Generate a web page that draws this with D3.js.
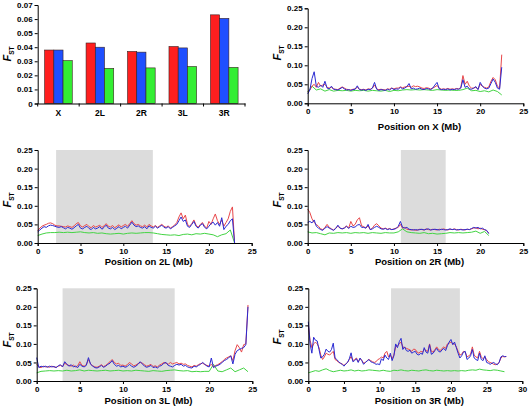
<!DOCTYPE html>
<html><head><meta charset="utf-8">
<script src="https://cdn.jsdelivr.net/npm/d3@7"></script>
<style>body{margin:0;background:#fff}svg{display:block}text{font-family:"Liberation Sans",Arial,sans-serif;font-weight:bold;fill:#000}</style>
</head><body><svg id="c" width="530" height="409"></svg>
<script>
// ---------- Bar chart data ----------
const barCats = ["X","2L","2R","3L","3R"];
const barRed   = [0.038, 0.043, 0.037, 0.0405, 0.063];
const barBlue  = [0.038, 0.040, 0.0365, 0.0395, 0.0605];
const barGreen = [0.0305, 0.025, 0.0253, 0.0263, 0.0257];
const barTicks = [0, 0.01, 0.02, 0.03, 0.04, 0.05, 0.06, 0.07];
const lineTicksY = [0, 0.05, 0.10, 0.15, 0.20, 0.25];

// window step (Mb) for red/blue series and green series
const stepRB = 0.25, stepG = 0.5;

// ---------- X ----------
const xRed = [0.030,0.035,0.045,0.050,0.042,0.055,0.045,0.048,0.050,0.042,0.040,0.042,0.038,0.037,0.036,0.040,0.043,0.040,0.037,0.036,0.035,0.037,0.038,0.042,0.037,0.036,0.037,0.035,0.038,0.037,0.040,0.048,0.038,0.036,0.037,0.036,0.035,0.038,0.037,0.040,0.038,0.040,0.040,0.043,0.041,0.043,0.044,0.045,0.042,0.046,0.044,0.045,0.043,0.040,0.039,0.041,0.040,0.038,0.040,0.043,0.047,0.040,0.037,0.038,0.037,0.039,0.037,0.038,0.037,0.039,0.038,0.041,0.073,0.050,0.058,0.045,0.040,0.040,0.042,0.037,0.050,0.045,0.042,0.040,0.043,0.058,0.068,0.062,0.045,0.040,0.128];
const xBlue = [0.025,0.035,0.065,0.083,0.045,0.042,0.048,0.042,0.058,0.040,0.038,0.045,0.037,0.036,0.035,0.038,0.042,0.038,0.035,0.036,0.034,0.036,0.037,0.046,0.036,0.035,0.036,0.034,0.037,0.036,0.040,0.055,0.037,0.034,0.036,0.035,0.034,0.037,0.035,0.040,0.036,0.038,0.037,0.042,0.038,0.040,0.044,0.052,0.038,0.040,0.037,0.038,0.040,0.037,0.036,0.039,0.038,0.036,0.040,0.048,0.055,0.038,0.036,0.037,0.036,0.038,0.035,0.037,0.036,0.038,0.037,0.040,0.062,0.042,0.045,0.038,0.037,0.040,0.044,0.036,0.055,0.045,0.040,0.038,0.040,0.052,0.064,0.055,0.040,0.037,0.095];
const xGreen = [0.030,0.045,0.035,0.038,0.032,0.036,0.032,0.034,0.033,0.034,0.032,0.034,0.033,0.034,0.032,0.034,0.033,0.032,0.034,0.031,0.034,0.033,0.035,0.036,0.035,0.036,0.035,0.036,0.035,0.034,0.036,0.035,0.034,0.035,0.034,0.034,0.036,0.040,0.033,0.034,0.031,0.033,0.030,0.035,0.031,0.022];

// ---------- 2L ----------
const l2Red = [0.033,0.040,0.045,0.048,0.050,0.053,0.054,0.052,0.048,0.046,0.046,0.045,0.044,0.043,0.046,0.044,0.042,0.046,0.052,0.055,0.046,0.043,0.047,0.050,0.044,0.041,0.047,0.043,0.045,0.048,0.042,0.046,0.052,0.045,0.043,0.047,0.041,0.045,0.049,0.043,0.047,0.050,0.045,0.052,0.060,0.052,0.048,0.050,0.046,0.044,0.048,0.043,0.050,0.046,0.043,0.047,0.042,0.046,0.050,0.045,0.042,0.046,0.040,0.044,0.048,0.055,0.070,0.081,0.065,0.075,0.050,0.045,0.052,0.062,0.048,0.042,0.050,0.055,0.045,0.040,0.058,0.050,0.065,0.078,0.060,0.050,0.062,0.045,0.055,0.065,0.085,0.097,0.000];
const l2Blue = [0.030,0.035,0.040,0.044,0.042,0.046,0.048,0.047,0.045,0.043,0.042,0.044,0.041,0.038,0.042,0.040,0.037,0.041,0.046,0.050,0.040,0.038,0.042,0.045,0.039,0.036,0.042,0.038,0.040,0.044,0.037,0.042,0.048,0.040,0.038,0.042,0.036,0.040,0.044,0.038,0.042,0.045,0.040,0.048,0.056,0.048,0.044,0.046,0.042,0.040,0.044,0.038,0.046,0.042,0.040,0.045,0.040,0.044,0.048,0.042,0.040,0.044,0.038,0.042,0.046,0.050,0.060,0.070,0.058,0.062,0.045,0.042,0.050,0.058,0.045,0.040,0.048,0.052,0.042,0.038,0.045,0.052,0.056,0.048,0.055,0.045,0.068,0.036,0.045,0.050,0.060,0.065,0.000];
const l2Green = [0.020,0.024,0.027,0.028,0.028,0.029,0.028,0.029,0.028,0.029,0.030,0.028,0.027,0.028,0.026,0.027,0.025,0.024,0.025,0.026,0.024,0.026,0.027,0.026,0.027,0.028,0.028,0.027,0.025,0.023,0.022,0.021,0.022,0.020,0.023,0.024,0.022,0.025,0.024,0.026,0.024,0.022,0.017,0.022,0.025,0.035,0.000];

// ---------- 2R ----------
const r2Red = [0.091,0.082,0.065,0.055,0.050,0.045,0.038,0.036,0.042,0.050,0.042,0.038,0.035,0.040,0.045,0.040,0.038,0.041,0.046,0.040,0.058,0.046,0.050,0.062,0.068,0.046,0.044,0.040,0.046,0.036,0.040,0.048,0.052,0.046,0.040,0.038,0.040,0.037,0.039,0.036,0.038,0.040,0.042,0.050,0.040,0.042,0.037,0.036,0.035,0.036,0.034,0.035,0.037,0.036,0.035,0.038,0.036,0.035,0.037,0.036,0.035,0.037,0.036,0.038,0.036,0.035,0.037,0.036,0.038,0.036,0.035,0.037,0.036,0.035,0.037,0.036,0.038,0.040,0.041,0.038,0.040,0.037,0.036,0.033,0.027];
const r2Blue = [0.055,0.058,0.054,0.062,0.045,0.040,0.036,0.034,0.040,0.044,0.040,0.037,0.034,0.039,0.048,0.040,0.038,0.040,0.045,0.039,0.045,0.042,0.043,0.048,0.050,0.042,0.042,0.040,0.050,0.036,0.038,0.042,0.045,0.042,0.038,0.037,0.039,0.036,0.038,0.036,0.037,0.039,0.045,0.058,0.042,0.040,0.042,0.037,0.036,0.035,0.036,0.035,0.036,0.037,0.035,0.037,0.038,0.035,0.036,0.037,0.036,0.035,0.037,0.036,0.035,0.036,0.038,0.036,0.037,0.035,0.036,0.036,0.035,0.036,0.037,0.036,0.039,0.042,0.040,0.042,0.038,0.040,0.036,0.034,0.025];
const r2Green = [0.030,0.027,0.028,0.025,0.022,0.027,0.026,0.028,0.027,0.028,0.026,0.028,0.027,0.028,0.026,0.028,0.027,0.026,0.028,0.027,0.027,0.030,0.038,0.030,0.028,0.027,0.026,0.028,0.025,0.026,0.024,0.025,0.026,0.028,0.027,0.028,0.027,0.028,0.029,0.032,0.026,0.031,0.020];

// ---------- 3L ----------
const l3Red = [0.045,0.038,0.036,0.040,0.038,0.039,0.037,0.040,0.038,0.037,0.040,0.042,0.039,0.048,0.044,0.042,0.040,0.043,0.038,0.041,0.052,0.042,0.040,0.044,0.058,0.046,0.041,0.038,0.037,0.040,0.044,0.039,0.042,0.047,0.052,0.058,0.050,0.046,0.048,0.042,0.043,0.040,0.044,0.050,0.046,0.041,0.043,0.047,0.050,0.048,0.044,0.040,0.042,0.045,0.039,0.041,0.038,0.043,0.046,0.050,0.048,0.045,0.050,0.046,0.048,0.050,0.046,0.048,0.045,0.046,0.042,0.040,0.038,0.042,0.040,0.044,0.047,0.048,0.044,0.042,0.040,0.045,0.038,0.042,0.044,0.048,0.052,0.058,0.062,0.065,0.068,0.055,0.082,0.098,0.090,0.078,0.098,0.100,0.205];
const l3Blue = [0.063,0.036,0.040,0.038,0.040,0.037,0.040,0.038,0.039,0.036,0.041,0.044,0.038,0.052,0.045,0.040,0.044,0.038,0.040,0.036,0.045,0.040,0.038,0.042,0.063,0.045,0.040,0.036,0.035,0.038,0.042,0.037,0.040,0.045,0.048,0.055,0.045,0.040,0.042,0.038,0.040,0.037,0.039,0.045,0.040,0.037,0.040,0.045,0.052,0.046,0.040,0.037,0.039,0.042,0.036,0.038,0.035,0.040,0.042,0.048,0.050,0.042,0.040,0.038,0.042,0.045,0.043,0.045,0.040,0.042,0.038,0.036,0.035,0.040,0.038,0.042,0.045,0.050,0.045,0.040,0.038,0.062,0.036,0.040,0.042,0.045,0.050,0.055,0.058,0.062,0.068,0.046,0.072,0.082,0.085,0.088,0.090,0.098,0.200];
const l3Green = [0.022,0.026,0.027,0.028,0.027,0.028,0.027,0.029,0.027,0.028,0.030,0.027,0.029,0.028,0.027,0.028,0.029,0.027,0.028,0.029,0.027,0.028,0.027,0.029,0.028,0.027,0.026,0.028,0.027,0.026,0.028,0.029,0.030,0.028,0.027,0.028,0.025,0.026,0.025,0.026,0.026,0.045,0.027,0.025,0.030,0.035,0.025,0.030,0.035,0.025];

// ---------- 3R ----------
const r3Red = [0.150,0.110,0.090,0.100,0.105,0.100,0.090,0.070,0.058,0.065,0.075,0.072,0.070,0.075,0.080,0.058,0.055,0.050,0.048,0.046,0.042,0.046,0.050,0.058,0.066,0.055,0.058,0.062,0.052,0.060,0.056,0.048,0.050,0.055,0.058,0.055,0.052,0.050,0.052,0.058,0.060,0.065,0.062,0.075,0.080,0.065,0.070,0.060,0.070,0.092,0.095,0.100,0.105,0.092,0.090,0.088,0.086,0.084,0.080,0.086,0.085,0.078,0.075,0.080,0.078,0.085,0.082,0.080,0.100,0.080,0.078,0.085,0.092,0.085,0.082,0.088,0.092,0.088,0.100,0.102,0.105,0.100,0.100,0.092,0.080,0.070,0.072,0.080,0.078,0.065,0.068,0.072,0.092,0.070,0.065,0.062,0.080,0.065,0.060,0.065,0.058,0.052,0.050,0.048,0.045,0.044,0.046,0.050,0.062,0.066,0.065,0.066];
const r3Blue = [0.160,0.100,0.075,0.118,0.110,0.108,0.085,0.062,0.065,0.072,0.086,0.080,0.078,0.085,0.102,0.062,0.058,0.052,0.048,0.045,0.040,0.046,0.050,0.060,0.076,0.052,0.055,0.060,0.050,0.062,0.055,0.045,0.050,0.054,0.058,0.052,0.050,0.048,0.045,0.046,0.044,0.060,0.055,0.070,0.062,0.058,0.075,0.055,0.068,0.100,0.090,0.106,0.115,0.085,0.092,0.082,0.080,0.083,0.075,0.078,0.080,0.072,0.070,0.075,0.072,0.090,0.078,0.075,0.098,0.072,0.075,0.082,0.088,0.080,0.078,0.084,0.088,0.082,0.095,0.105,0.112,0.098,0.105,0.090,0.075,0.062,0.068,0.078,0.080,0.058,0.062,0.068,0.085,0.062,0.058,0.055,0.075,0.058,0.055,0.068,0.050,0.048,0.045,0.048,0.050,0.046,0.044,0.050,0.065,0.068,0.066,0.066];
const r3Green = [0.022,0.025,0.028,0.026,0.030,0.033,0.028,0.025,0.027,0.029,0.027,0.028,0.030,0.027,0.029,0.027,0.028,0.030,0.029,0.028,0.027,0.029,0.027,0.026,0.029,0.028,0.030,0.028,0.027,0.029,0.028,0.027,0.029,0.030,0.028,0.027,0.029,0.028,0.027,0.028,0.027,0.028,0.027,0.028,0.027,0.029,0.030,0.029,0.032,0.030,0.029,0.028,0.030,0.029,0.027,0.025];

// shaded regions (Mb)
const shade2L = [2.15, 13.45];
const shade2R = [10.8, 16.0];
const shade3L = [3.0, 16.0];
const shade3R = [11.6, 21.25];

const C = {red:"#e8474a", blue:"#2a2ad2", green:"#44d444",
           bRed:"#ff1f1f", bBlue:"#1f4fff", bGreen:"#33ee33"};

const svg = d3.select("#c");

function fstLabel(g, x, y) {
  const t = g.append("text").attr("transform", `translate(${x},${y}) rotate(-90)`)
    .attr("text-anchor","middle");
  t.append("tspan").text("F").style("font-style","italic").attr("font-size", 11);
  t.append("tspan").text("ST").attr("font-size", 6.5).attr("dy", 2.5);
}

// ---------- Bar chart ----------
(function(){
  const x0 = 37.7, x1 = 245, yT = 5, yB = 103.5;
  const y = d3.scaleLinear().domain([0,0.07]).range([yB,yT]);
  const xb = d3.scaleBand().domain(barCats).range([x0,x1]).paddingInner(0.333).paddingOuter(0.1667);
  const xs = d3.scaleBand().domain([0,1,2]).range([0, xb.bandwidth()]);
  const g = svg.append("g");
  const series = [[barRed,C.bRed],[barBlue,C.bBlue],[barGreen,C.bGreen]];
  series.forEach(([vals,col],si)=>{
    g.selectAll(null).data(vals).enter().append("rect")
      .attr("x",(d,i)=>xb(barCats[i])+xs(si)).attr("width",xs.bandwidth())
      .attr("y",d=>y(d)).attr("height",d=>yB-y(d))
      .attr("fill",col).attr("stroke","#3a2020").attr("stroke-width",0.6);
  });
  const ya = d3.axisLeft(y).tickValues(barTicks).tickSize(3).tickPadding(2)
    .tickFormat(d=> d===0 ? "0" : d3.format(".2f")(d));
  const ga = g.append("g").attr("transform",`translate(${x0},0)`).call(ya);
  ga.selectAll("text").attr("font-size",8).attr("font-family","Liberation Sans, Arial");
  const xa = d3.axisBottom(xb).tickSize(0).tickPadding(6);
  const gx = g.append("g").attr("transform",`translate(0,${yB})`).call(xa);
  gx.selectAll("text").attr("font-size",8.5).attr("font-family","Liberation Sans, Arial");
  // boundary ticks
  const bounds = barCats.map(c=>xb(c)-xb.step()*xb.paddingInner()/2).concat([x1]);
  g.selectAll(null).data(bounds).enter().append("line")
    .attr("x1",d=>d).attr("x2",d=>d).attr("y1",yB).attr("y2",yB+3).attr("stroke","#000");
  g.selectAll(".domain").attr("stroke","#000");
  fstLabel(g, 11, 54);
})();

// ---------- Line panels ----------
function linePanel(cfg){
  const {x0,x1,yT,yB,xMax,xTicks,red,blue,green,shade,title,lx,ly,titleY} = cfg;
  const x = d3.scaleLinear().domain([0,xMax]).range([x0,x1]);
  const y = d3.scaleLinear().domain([0,0.25]).range([yB,yT]);
  const g = svg.append("g");
  if (shade) g.append("rect").attr("x",x(shade[0])).attr("width",x(shade[1])-x(shade[0]))
     .attr("y",y(0.25)).attr("height",y(0)-y(0.25)).attr("fill","#dcdcdc");
  const mk = (vals, step) => vals.map((v,i)=>[i*step, v]);
  const line = d3.line().x(d=>x(d[0])).y(d=>y(d[1]));
  [[green,stepG,C.green],[red,stepRB,C.red],[blue,stepRB,C.blue]].forEach(([v,s,col])=>{
    g.append("path").attr("d", line(mk(v,s))).attr("fill","none")
      .attr("stroke",col).attr("stroke-width",1);
  });
  const ya = d3.axisLeft(y).tickValues(lineTicksY).tickSize(3).tickPadding(2).tickFormat(d3.format(".2f"));
  const ga = g.append("g").attr("transform",`translate(${x0},0)`).call(ya);
  ga.selectAll("text").attr("font-size",8).attr("font-family","Liberation Sans, Arial");
  const xa = d3.axisBottom(x).tickValues(xTicks).tickSize(3).tickPadding(2).tickFormat(d3.format("d"));
  const gx = g.append("g").attr("transform",`translate(0,${yB})`).call(xa);
  gx.selectAll("text").attr("font-size",8).attr("font-family","Liberation Sans, Arial");
  g.selectAll(".domain").attr("stroke","#000");
  g.append("text").attr("x",(x0+x1)/2+4).attr("y",titleY).attr("text-anchor","middle")
    .attr("dominant-baseline","middle").attr("font-size",9.5).text(title);
  fstLabel(g, lx, ly);
}
const t25 = [0,5,10,15,20,25], t30 = [0,5,10,15,20,25,30];
linePanel({x0:307.7,x1:523.3,yT:8.3,yB:103.3,xMax:25,xTicks:t25,red:xRed,blue:xBlue,green:xGreen,shade:null,title:"Position on X (Mb)",lx:281,ly:53,titleY:127});
linePanel({x0:37.7,x1:251.7,yT:150,yB:243,xMax:25,xTicks:t25,red:l2Red,blue:l2Blue,green:l2Green,shade:shade2L,title:"Position on 2L (Mb)",lx:11,ly:200,titleY:262});
linePanel({x0:307.7,x1:523.3,yT:150,yB:243,xMax:25,xTicks:t25,red:r2Red,blue:r2Blue,green:r2Green,shade:shade2R,title:"Position on 2R (Mb)",lx:281,ly:200,titleY:262});
linePanel({x0:36.7,x1:252.3,yT:288.3,yB:381,xMax:25,xTicks:t25,red:l3Red,blue:l3Blue,green:l3Green,shade:shade3L,title:"Position on 3L (Mb)",lx:11,ly:340,titleY:401});
linePanel({x0:308.3,x1:522.3,yT:288.3,yB:381,xMax:30,xTicks:t30,red:r3Red,blue:r3Blue,green:r3Green,shade:shade3R,title:"Position on 3R (Mb)",lx:281,ly:337,titleY:401});
</script></body></html>
